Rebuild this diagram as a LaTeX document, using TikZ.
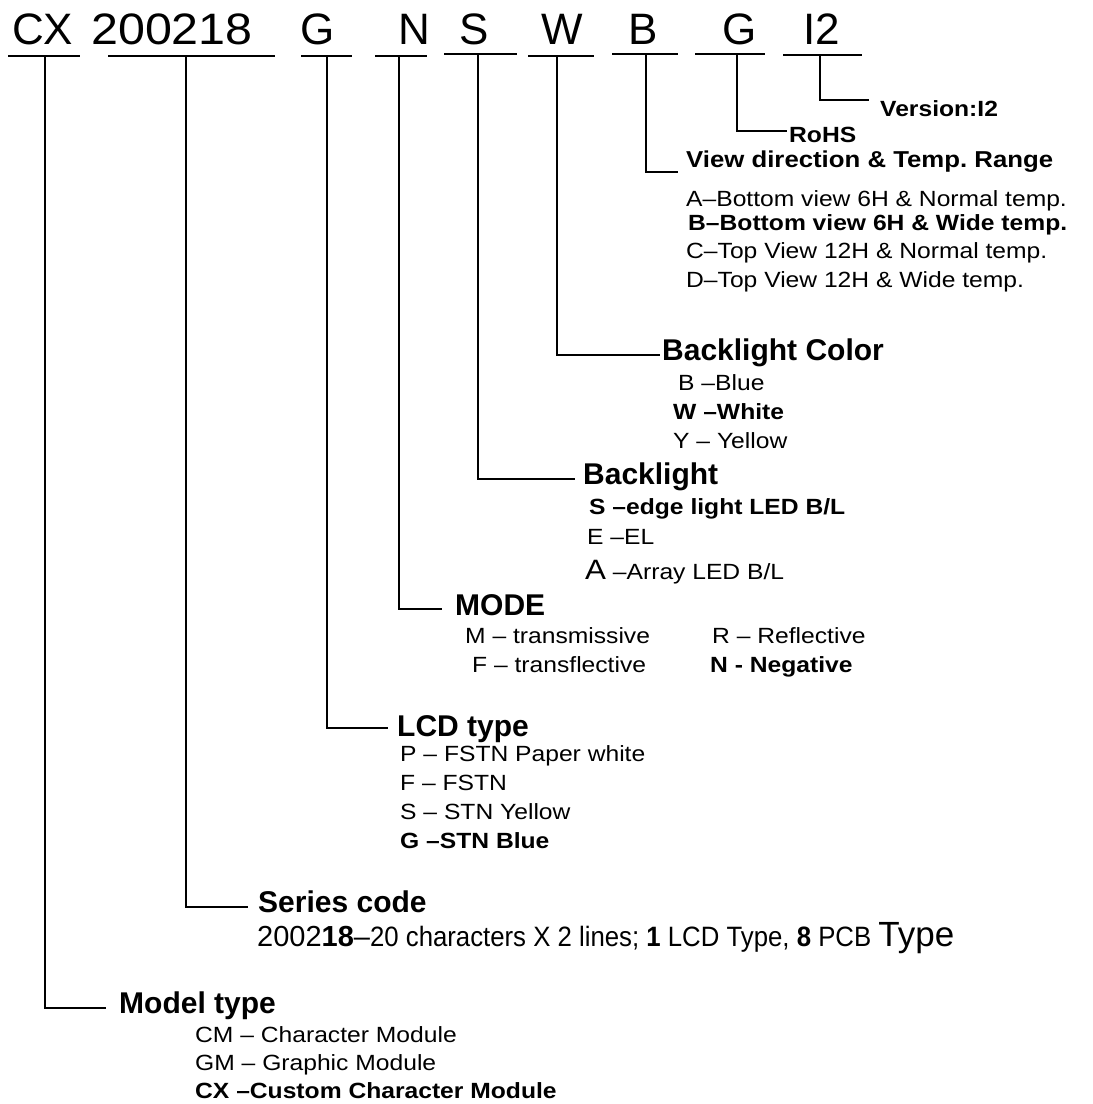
\documentclass[tikz,border=0pt]{standalone}
\usepackage{fontspec}
\setmainfont{Liberation Sans}
\newfontfamily\widefont{Liberation Sans}[FakeStretch=1.12,Ligatures=TeX]
\usepackage{graphicx}
\frenchspacing
\tikzset{
  lbl/.style={anchor=base west, inner sep=0pt, font=\widefont\fontsize{22}{22}\selectfont},
  lblb/.style={anchor=base west, inner sep=0pt, font=\widefont\fontsize{22}{22}\selectfont\bfseries},
  head/.style={anchor=base west, inner sep=0pt, font=\fontsize{30}{30}\selectfont\bfseries},
  code/.style={anchor=base west, inner sep=0pt, font=\fontsize{44}{44}\selectfont},
  uline/.style={line width=2.6pt},
  conn/.style={line width=2pt},
}
\begin{document}
\begin{tikzpicture}[x=1pt,y=-1pt]
\path[use as bounding box] (0,0) rectangle (1093,1104);
% code letters
\node[code] (cCX) at (12,44) {CX};
\node[code] (c200218) at (91,44) {\scalebox{1.1}[1]{200218}};
\node[code] (cG) at (300,44) {G};
\node[code] (cN) at (398,44) {N};
\node[code] (cS) at (459,44) {S};
\node[code] (cW) at (541,44) {W};
\node[code] (cB) at (628,44) {B};
\node[code] (cG2) at (722,44) {G};
\node[code] (cI) at (803,44) {I2};
% underlines
\draw[uline] (8,56) -- (80,56);
\draw[uline] (108,56) -- (275,56);
\draw[uline] (301,56) -- (352,56);
\draw[uline] (375,56) -- (427,56);
\draw[uline] (444,54) -- (517,54);
\draw[uline] (528,56) -- (594,56);
\draw[uline] (612,54) -- (678,54);
\draw[uline] (695,54) -- (765,54);
\draw[uline] (783,55) -- (862,55);
% connector anchor points
\coordinate (uCX) at (45,56);
\coordinate (u200218) at (186,56);
\coordinate (uG) at (327,56);
\coordinate (uN) at (399,56);
\coordinate (uS) at (478,54);
\coordinate (uW) at (557,56);
\coordinate (uB) at (646,54);
\coordinate (uG2) at (737,54);
\coordinate (uI) at (820,55);
\coordinate (eCX) at (106,1008);
\coordinate (e200218) at (248,907);
\coordinate (eG) at (388,728);
\coordinate (eN) at (442,609);
\coordinate (eS) at (575,479);
\coordinate (eW) at (660,355);
\coordinate (eB) at (678,172);
\coordinate (eG2) at (787,131);
\coordinate (eI) at (869,100);
\draw[conn] (uCX) |- (eCX);
\draw[conn] (u200218) |- (e200218);
\draw[conn] (uG) |- (eG);
\draw[conn] (uN) |- (eN);
\draw[conn] (uS) |- (eS);
\draw[conn] (uW) |- (eW);
\draw[conn] (uB) |- (eB);
\draw[conn] (uG2) |- (eG2);
\draw[conn] (uI) |- (eI);
% version / rohs
\node[lblb] (ver) at (880,116) {Version:I2};
\node[lblb] (rohs) at (789,142) {RoHS};
% view direction
\node[lblb, font=\widefont\fontsize{23}{23}\selectfont\bfseries] (view) at (686,167) {View direction \& Temp. Range};
\node[lbl] (vA) at (686,206) {A–Bottom view 6H \& Normal temp.};
\node[lblb] (vB) at (688,230) {B–Bottom view 6H \& Wide temp.};
\node[lbl] (vC) at (686,258) {C–Top View 12H \& Normal temp.};
\node[lbl] (vD) at (686,287) {D–Top View 12H \& Wide temp.};
% backlight color
\node[head] (blc) at (662,360) {Backlight Color};
\node[lbl] (bcB) at (678,390) {B –Blue};
\node[lblb] (bcW) at (673,419) {W –White};
\node[lbl] (bcY) at (673,448) {Y – Yellow};
% backlight
\node[head] (bl) at (583,484) {Backlight};
\node[lblb] (blS) at (589,514) {S –edge light LED B/L};
\node[lbl] (blE) at (587,544) {E –EL};
\node[lbl] (blA) at (585,579) {{\fontsize{28}{28}\selectfont A} –Array LED B/L};
% mode
\node[head] (mode) at (455,615) {MODE};
\node[lbl] (mM) at (465,643) {M – transmissive};
\node[lbl] (mR) at (712,643) {R – Reflective};
\node[lbl] (mF) at (472,672) {F – transflective};
\node[lblb] (mN) at (710,672) {N - Negative};
% lcd type
\node[head] (lcd) at (397,736) {LCD type};
\node[lbl] (lP) at (400,761) {P – FSTN Paper white};
\node[lbl] (lF) at (400,790) {F – FSTN};
\node[lbl] (lS) at (400,819) {S – STN Yellow};
\node[lblb] (lG) at (400,848) {G –STN Blue};
% series code
\node[head] (ser) at (258,912) {Series code};
\node[lbl, font=\fontsize{25}{25}\selectfont] (serT) at (257,946) {{\fontsize{29}{29}\selectfont 2002\textbf{18}–}{\fontsize{28}{28}\selectfont\scalebox{0.92}[1]{20 characters X 2 lines; \textbf{1} LCD Type, \textbf{8} PCB }}{\fontsize{35}{35}\selectfont Type}};
% model type
\node[head] (model) at (119,1013) {Model type};
\node[lbl] (mCM) at (195,1042) {CM – Character Module};
\node[lbl] (mGM) at (195,1070) {GM – Graphic Module};
\node[lblb] (mCX) at (195,1098) {CX –Custom Character Module};
\end{tikzpicture}
\end{document}
